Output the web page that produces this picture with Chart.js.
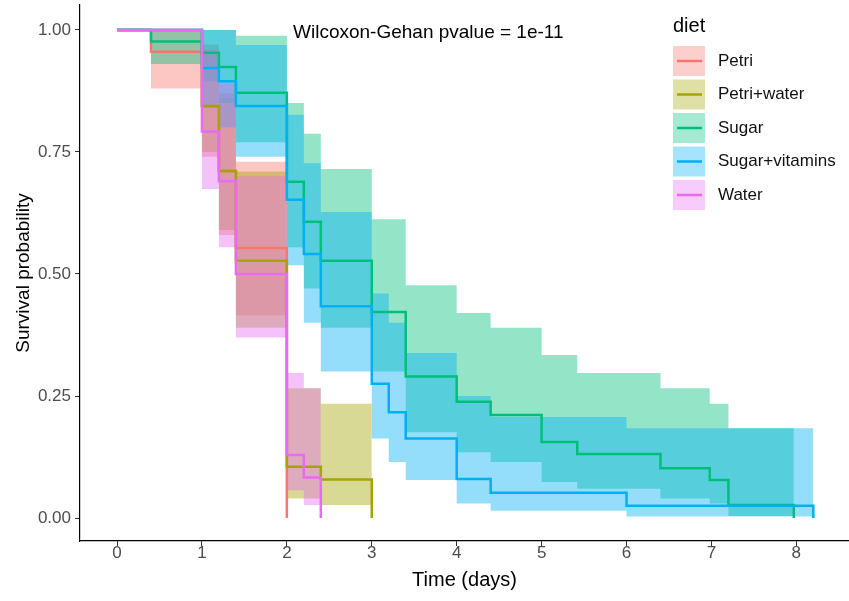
<!DOCTYPE html>
<html>
<head>
<meta charset="utf-8">
<script src="https://cdn.jsdelivr.net/npm/chart.js@4"></script>
<style>
  html, body { margin: 0; padding: 0; background: #fff; }
  #wrap { width: 849px; height: 601px; }
</style>
</head>
<body>
<div id="wrap"><canvas id="chart" width="849" height="601"></canvas></div>
<script>
const groups = ["Petri", "Petri+water", "Sugar", "Sugar+vitamins", "Water"];
const colors = ["#F8766D", "#A3A500", "#00BF7D", "#00B0F6", "#E76BF3"];

const xTicks = [0, 1, 2, 3, 4, 5, 6, 7, 8];
const yTicks = [0, 0.25, 0.5, 0.75, 1];

// Kaplan-Meier steps: time of change, survival, upper and lower CI
const petriT  = [0, 0.4, 1.0, 1.2, 1.4, 2.0];
const petriS  = [1, 0.955, 0.844, 0.711, 0.553, 0];
const petriUp = [1, 1, 0.97, 0.87, 0.73, 0];
const petriLo = [1, 0.88, 0.74, 0.58, 0.415, 0];

const pwaterT  = [0, 1.0, 1.2, 1.4, 2.0, 2.4, 3.0];
const pwaterS  = [1, 0.844, 0.711, 0.527, 0.105, 0.079, 0];
const pwaterUp = [1, 0.96, 0.86, 0.71, 0.266, 0.234, 0];
const pwaterLo = [1, 0.75, 0.59, 0.39, 0.04, 0.027, 0];

const sugarT  = [0, 0.4, 1.0, 1.2, 1.4, 2.0, 2.2, 2.4, 3.0, 3.4, 4.0, 4.4, 5.0, 5.42, 6.4, 6.98, 7.2, 7.97];
const sugarS  = [1, 0.976, 0.953, 0.924, 0.871, 0.689, 0.607, 0.527, 0.422, 0.29, 0.238, 0.211, 0.156, 0.131, 0.102, 0.078, 0.027, 0];
const sugarUp = [1, 1, 1, 1, 0.988, 0.85, 0.787, 0.715, 0.612, 0.477, 0.42, 0.39, 0.334, 0.297, 0.266, 0.234, 0.184, 0];
const sugarLo = [1, 0.93, 0.895, 0.85, 0.77, 0.555, 0.47, 0.39, 0.30, 0.176, 0.135, 0.115, 0.074, 0.06, 0.04, 0.03, 0.004, 0];

const sugvitT  = [0, 1.0, 1.2, 1.4, 2.0, 2.2, 2.4, 3.0, 3.2, 3.4, 4.0, 4.4, 6.0, 8.2];
const sugvitS  = [1, 0.922, 0.895, 0.844, 0.652, 0.541, 0.434, 0.275, 0.217, 0.163, 0.080, 0.052, 0.025, 0];
const sugvitUp = [1, 1, 1, 0.969, 0.826, 0.727, 0.627, 0.46, 0.40, 0.338, 0.25, 0.207, 0.184, 0];
const sugvitLo = [1, 0.84, 0.80, 0.74, 0.518, 0.40, 0.30, 0.163, 0.115, 0.078, 0.03, 0.015, 0.003, 0];

const waterT  = [0, 1.0, 1.2, 1.4, 2.0, 2.2, 2.4];
const waterS  = [1, 0.792, 0.69, 0.50, 0.129, 0.083, 0];
const waterUp = [1, 0.96, 0.89, 0.70, 0.297, 0.266, 0];
const waterLo = [1, 0.674, 0.555, 0.37, 0.057, 0.027, 0];

const pvalueText = "Wilcoxon-Gehan pvalue = 1e-11";
const legendTitle = "diet";

const FONT = "'Liberation Sans', Arial, sans-serif";

const series = [
  { t: petriT,  s: petriS,  up: petriUp,  lo: petriLo },
  { t: pwaterT, s: pwaterS, up: pwaterUp, lo: pwaterLo },
  { t: sugarT,  s: sugarS,  up: sugarUp,  lo: sugarLo },
  { t: sugvitT, s: sugvitS, up: sugvitUp, lo: sugvitLo },
  { t: waterT,  s: waterS,  up: waterUp,  lo: waterLo }
];

function rgba(hex, a) {
  const n = parseInt(hex.slice(1), 16);
  return `rgba(${(n >> 16) & 255},${(n >> 8) & 255},${n & 255},${a})`;
}

function pts(ts, vs) {
  return ts.map((t, i) => ({ x: t, y: vs[i] }));
}

const datasets = [];
series.forEach((g, i) => {
  const upIdx = datasets.length;
  datasets.push({
    label: groups[i] + " upper",
    data: pts(g.t, g.up),
    stepped: "before",
    borderWidth: 0,
    borderColor: "transparent",
    pointRadius: 0,
    fill: false,
    order: 20 - i
  });
  datasets.push({
    label: groups[i] + " lower",
    data: pts(g.t, g.lo),
    stepped: "before",
    borderWidth: 0,
    borderColor: "transparent",
    backgroundColor: rgba(colors[i], 0.42),
    pointRadius: 0,
    fill: upIdx,
    order: 20 - i
  });
});
series.forEach((g, i) => {
  datasets.push({
    label: groups[i],
    data: pts(g.t, g.s),
    stepped: "before",
    borderColor: colors[i],
    borderWidth: 2.5,
    pointRadius: 0,
    fill: false,
    order: 4 - i
  });
});

const overlay = {
  id: "overlay",
  afterDraw(chart) {
    const ctx = chart.ctx;
    ctx.save();
    ctx.textBaseline = "middle";
    ctx.textAlign = "left";
    ctx.fillStyle = "#000";
    ctx.font = "19px " + FONT;
    ctx.fillText(pvalueText, 293, 33);

    ctx.font = "20px " + FONT;
    ctx.fillText(legendTitle, 673, 26);
    groups.forEach((g, i) => {
      const y = 46 + i * 33.5;
      ctx.fillStyle = rgba(colors[i], 0.35);
      ctx.fillRect(673, y, 32, 30);
      ctx.strokeStyle = colors[i];
      ctx.lineWidth = 2.5;
      ctx.beginPath();
      ctx.moveTo(677, y + 15);
      ctx.lineTo(702, y + 15);
      ctx.stroke();
      ctx.fillStyle = "#111";
      ctx.font = "17px " + FONT;
      ctx.fillText(g, 718, y + 15);
    });
    ctx.restore();
  }
};

new Chart(document.getElementById("chart"), {
  type: "line",
  data: { datasets },
  plugins: [overlay],
  options: {
    responsive: false,
    animation: false,
    layout: { padding: { top: 5, right: 0, left: 0, bottom: 0 } },
    plugins: {
      legend: { display: false },
      tooltip: { enabled: false }
    },
    scales: {
      x: {
        type: "linear",
        min: -0.436,
        max: 8.62,
        afterBuildTicks: s => { s.ticks = xTicks.map(v => ({ value: v })); },
        afterFit: s => { s.height = 60; s.paddingLeft = 0; s.paddingRight = 0; },
        grid: { drawOnChartArea: false, drawTicks: true, tickLength: 5, tickColor: "#333", tickWidth: 1 },
        border: { display: true, color: "#000", width: 1.2 },
        ticks: {
          color: "#4D4D4D",
          padding: -3,
          maxRotation: 0,
          font: { size: 17, family: FONT }
        },
        title: {
          display: true,
          text: "Time (days)",
          color: "#000",
          font: { size: 20, family: FONT },
          padding: { top: 0, bottom: 9 }
        }
      },
      y: {
        type: "linear",
        min: -0.047,
        max: 1.051,
        afterBuildTicks: s => { s.ticks = yTicks.map(v => ({ value: v })); },
        afterFit: s => { s.width = 80; s.paddingTop = 0; s.paddingBottom = 0; },
        grid: { drawOnChartArea: false, drawTicks: true, tickLength: 5, tickColor: "#333", tickWidth: 1 },
        border: { display: true, color: "#000", width: 1.2 },
        ticks: {
          color: "#4D4D4D",
          padding: 4,
          font: { size: 17, family: FONT },
          callback: v => Number(v).toFixed(2)
        },
        title: {
          display: true,
          text: "Survival probability",
          color: "#000",
          font: { size: 19, family: FONT },
          padding: { top: 12, bottom: 0 }
        }
      }
    }
  }
});
</script>
</body>
</html>
